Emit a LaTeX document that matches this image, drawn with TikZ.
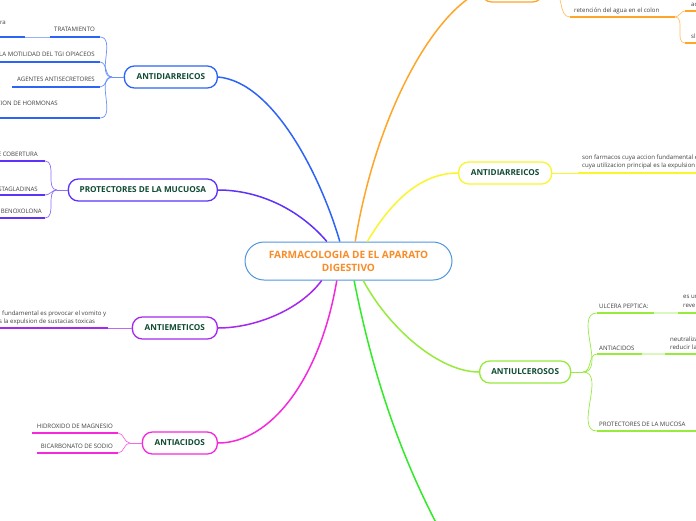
\documentclass[tikz,border=0pt]{standalone}
\usepackage{fontspec}
\setmainfont{Open Sans}

\definecolor{rootblue}{RGB}{80,150,220}
\definecolor{rootorange}{RGB}{250,140,40}
\definecolor{titlegreen}{RGB}{15,75,50}
\definecolor{mapblue}{RGB}{45,100,245}
\definecolor{mapviolet}{RGB}{95,50,250}
\definecolor{mappurple}{RGB}{165,40,240}
\definecolor{mapmagenta}{RGB}{245,40,220}
\definecolor{mapyellow}{RGB}{250,245,45}
\definecolor{mapleaf}{RGB}{150,235,60}
\definecolor{mapgreen}{RGB}{50,235,40}
\definecolor{maporange}{RGB}{255,165,40}

\begin{document}
\begin{tikzpicture}[
    x=1pt, y=-1pt,
    every node/.style={font=\fontsize{6.1}{7.6}\selectfont},
    topic/.style={draw=#1, rectangle, rounded corners=10pt, fill=white, line width=1.3pt, minimum height=22pt, inner sep=0pt, font=\fontsize{8.2}{9}\selectfont\bfseries, text=titlegreen},
    leaf/.style={inner sep=0pt, text=black!75},
    branch/.style={draw=#1, line width=1.5pt},
    twig/.style={draw=#1, line width=0.7pt},
    uline/.style={draw=#1, line width=1.6pt}
]

    \clip (0,0) rectangle (696,520);
    \fill[white] (0,0) rectangle (696,520);

    % --------------------------------------------------------
    % 1. CENTRAL TOPIC AND MAIN TOPICS
    % --------------------------------------------------------

    \node (root) [draw=rootblue, fill=white, rounded corners=19pt, line width=1pt, minimum width=207pt, minimum height=38pt, align=center, text=rootorange, font=\fontsize{10.1}{13}\selectfont\bfseries] at (348.5,261) {FARMACOLOGIA DE EL APARATO\\DIGESTIVO};

    % left side
    \node (antidl) [topic=mapblue, minimum width=93pt, anchor=east] at (218,77) {ANTIDIARREICOS};
    \node (protl) [topic=mapviolet, minimum width=149pt, anchor=east] at (218,190) {PROTECTORES DE LA MUCUOSA};
    \node (antiem) [topic=mappurple, minimum width=85pt, anchor=east] at (218,328) {ANTIEMETICOS};
    \node (antiac) [topic=mapmagenta, minimum width=75pt, anchor=east] at (218,443) {ANTIACIDOS};

    % right side
    \node (orangetop) [topic=maporange, minimum width=61pt, anchor=west] at (481,-9) {};
    \node (antidr) [topic=mapyellow, minimum width=93pt, anchor=west] at (458,173) {ANTIDIARREICOS};
    \node (antiul) [topic=mapleaf, minimum width=91pt, anchor=west] at (479,372) {ANTIULCEROSOS};
    \coordinate (greenend) at (448,545);

    % main branches
    \draw [branch=mapblue] (root.114) .. controls (322,180) and (275,82) .. (antidl.east);
    \draw [branch=mapviolet] (root.138) .. controls (300,210) and (260,190) .. (protl.east);
    \draw [branch=maporange] (root.71) .. controls (375,120) and (430,15) .. (orangetop.west);
    \draw [branch=mapyellow] (root.46) .. controls (395,195) and (425,173) .. (antidr.west);
    \draw [branch=mappurple] (root.216) .. controls (300,310) and (255,328) .. (antiem.east);
    \draw [branch=mapmagenta] (root.239) .. controls (320,380) and (270,443) .. (antiac.east);
    \draw [branch=mapgreen] (root.286) .. controls (370,360) and (395,450) .. (greenend);
    \draw [branch=mapleaf] (root.307) .. controls (390,330) and (440,372) .. (antiul.west);

    % --------------------------------------------------------
    % 2. ANTIDIARREICOS (LEFT)
    % --------------------------------------------------------

    \coordinate (antidl-j) at (112,77);
    \coordinate (tr-r) at (100,37);  \coordinate (tr-l) at (50,37);
    \coordinate (ra-r) at (25,37);   \coordinate (ra-l) at (0,37);
    \coordinate (mo-r) at (100,62);  \coordinate (mo-l) at (0,62);
    \coordinate (as-r) at (100,87);  \coordinate (as-l) at (12,87);
    \coordinate (ho-r) at (100,118); \coordinate (ho-l) at (0,118);

    \node (ra) [leaf, anchor=base east] at (6,24) {ra};
    \node (tr) [leaf, anchor=base east] at (95,31) {TRATAMIENTO};
    \node (mo) [leaf, anchor=base east] at (95,56) {LA MOTILIDAD DEL TGI OPIACEOS};
    \node (as) [leaf, anchor=base east] at (95,81) {AGENTES ANTISECRETORES};
    \node (ho) [leaf, anchor=base east] at (58,105) {CION DE HORMONAS};

    \draw [twig=mapblue!70] (antidl.west) -- (antidl-j);
    \draw [twig=mapblue!70] (antidl-j) to[out=180, in=0] (tr-r);
    \draw [twig=mapblue!70] (antidl-j) to[out=180, in=0] (mo-r);
    \draw [twig=mapblue!70] (antidl-j) to[out=180, in=0] (as-r);
    \draw [twig=mapblue!70] (antidl-j) to[out=180, in=0] (ho-r);
    \draw [twig=mapblue!50] (ra-r) -- (tr-l);
    \draw [uline=mapblue] (tr-l) -- (tr-r);
    \draw [uline=mapblue] (ra-l) -- (ra-r);
    \draw [uline=mapblue] (mo-l) -- (mo-r);
    \draw [uline=mapblue] (as-l) -- (as-r);
    \draw [uline=mapblue] (ho-l) -- (ho-r);

    % --------------------------------------------------------
    % 3. PROTECTORES DE LA MUCUOSA
    % --------------------------------------------------------

    \coordinate (protl-j) at (57,190);
    \coordinate (co-r) at (45,161); \coordinate (co-l) at (0,161);
    \coordinate (st-r) at (45,195); \coordinate (st-l) at (0,195);
    \coordinate (be-r) at (45,218); \coordinate (be-l) at (0,218);

    \node (co) [leaf, anchor=base east] at (38,156) {E COBERTURA};
    \node (st) [leaf, anchor=base east] at (38,191) {STAGLADINAS};
    \node (be) [leaf, anchor=base east] at (42,213) {BENOXOLONA};

    \draw [twig=mapviolet!70] (protl.west) -- (protl-j);
    \draw [twig=mapviolet!70] (protl-j) to[out=180, in=0] (co-r);
    \draw [twig=mapviolet!70] (protl-j) to[out=180, in=0] (st-r);
    \draw [twig=mapviolet!70] (protl-j) to[out=180, in=0] (be-r);
    \draw [uline=mapviolet] (co-l) -- (co-r);
    \draw [uline=mapviolet] (st-l) -- (st-r);
    \draw [uline=mapviolet] (be-l) -- (be-r);

    % --------------------------------------------------------
    % 4. ANTIEMETICOS AND ANTIACIDOS
    % --------------------------------------------------------

    \coordinate (vo-r) at (108,328); \coordinate (vo-l) at (0,328);
    \node (vo) [leaf, anchor=base west] at (2,315) {fundamental es provocar el vomito y};
    \node (ex) [leaf, anchor=base west] at (-1,323) {s la expulsion de sustacias toxicas};
    \draw [twig=mappurple!70] (antiem.west) -- (vo-r);
    \draw [uline=mappurple] (vo-l) -- (vo-r);

    \coordinate (antiac-j) at (130,443);
    \coordinate (hi-r) at (118,433); \coordinate (hi-l) at (32,433);
    \coordinate (bi-r) at (118,453); \coordinate (bi-l) at (37,453);
    \node (hi) [leaf, anchor=base east] at (113,428) {HIDROXIDO DE MAGNESIO};
    \node (bi) [leaf, anchor=base east] at (113,448) {BICARBONATO DE SODIO};
    \draw [twig=mapmagenta!70] (antiac.west) -- (antiac-j);
    \draw [twig=mapmagenta!70] (antiac-j) to[out=180, in=0] (hi-r);
    \draw [twig=mapmagenta!70] (antiac-j) to[out=180, in=0] (bi-r);
    \draw [uline=mapmagenta] (hi-l) -- (hi-r);
    \draw [uline=mapmagenta] (bi-l) -- (bi-r);

    % --------------------------------------------------------
    % 5. RIGHT SIDE
    % --------------------------------------------------------

    % orange topic (cut at the top)
    \coordinate (orangetop-j) at (552,-9);
    \coordinate (re-l) at (570,17); \coordinate (re-r) at (675,17);
    \coordinate (ac-l) at (685,11); \coordinate (ac-r) at (700,11);
    \coordinate (sl-l) at (685,43); \coordinate (sl-r) at (700,43);
    \node (re) [leaf, anchor=base west] at (574,12) {retención del agua en el colon};
    \node (ac) [leaf, anchor=base west] at (691,6.5) {ac};
    \node (sl) [leaf, anchor=base west] at (691,38.5) {sli};
    \draw [twig=maporange!70] (orangetop.east) -- (orangetop-j) to[out=0, in=180] (re-l);
    \draw [twig=maporange!70] (re-r) to[out=0, in=180] (ac-l);
    \draw [twig=maporange!70] (re-r) to[out=0, in=180] (sl-l);
    \draw [uline=maporange] (re-l) -- (re-r);
    \draw [uline=maporange] (ac-l) -- (ac-r);
    \draw [uline=maporange] (sl-l) -- (sl-r);

    % yellow antidiarreicos
    \coordinate (fa-l) at (578,173); \coordinate (fa-r) at (700,173);
    \node (fa) [leaf, anchor=base west] at (582,159) {son farmacos cuya accion fundamental e};
    \node (ut) [leaf, anchor=base west] at (582,167) {cuya utilizacion principal es la expulsion c};
    \draw [twig=mapyellow] (antidr.east) -- (fa-l);
    \draw [uline=mapyellow] (fa-l) -- (fa-r);

    % antiulcerosos
    \coordinate (antiul-j) at (583,372);
    \coordinate (ul-l) at (597,313); \coordinate (ul-m) at (654,313); \coordinate (ul-n) at (678,313); \coordinate (ul-r) at (700,313);
    \coordinate (an-l) at (597,354); \coordinate (an-m) at (642,354); \coordinate (an-n) at (665,354); \coordinate (an-r) at (700,354);
    \coordinate (pm-l) at (597,431); \coordinate (pm-r) at (700,431);
    \node (ul) [leaf, anchor=base west] at (599,308) {ULCERA PEPTICA:};
    \node (es) [leaf, anchor=base west] at (683,298.5) {es un};
    \node (rv) [leaf, anchor=base west] at (683,307.5) {reve};
    \node (an) [leaf, anchor=base west] at (599,350) {ANTIACIDOS};
    \node (ne) [leaf, anchor=base west] at (670,341) {neutraliza};
    \node (rd) [leaf, anchor=base west] at (670,349.5) {reducir la};
    \node (pm) [leaf, anchor=base west] at (599,426) {PROTECTORES DE LA MUCOSA};
    \draw [twig=mapleaf] (antiul.east) -- (antiul-j);
    \draw [twig=mapleaf] (antiul-j) to[out=0, in=180] (ul-l);
    \draw [twig=mapleaf] (antiul-j) to[out=0, in=180] (an-l);
    \draw [twig=mapleaf] (antiul-j) to[out=0, in=180] (pm-l);
    \draw [uline=mapleaf] (ul-l) -- (ul-m);
    \draw [uline=mapleaf!35] (ul-m) -- (ul-n);
    \draw [uline=mapleaf] (ul-n) -- (ul-r);
    \draw [uline=mapleaf] (an-l) -- (an-m);
    \draw [uline=mapleaf!35] (an-m) -- (an-n);
    \draw [uline=mapleaf] (an-n) -- (an-r);
    \draw [uline=mapleaf] (pm-l) -- (pm-r);

\end{tikzpicture}
\end{document}
